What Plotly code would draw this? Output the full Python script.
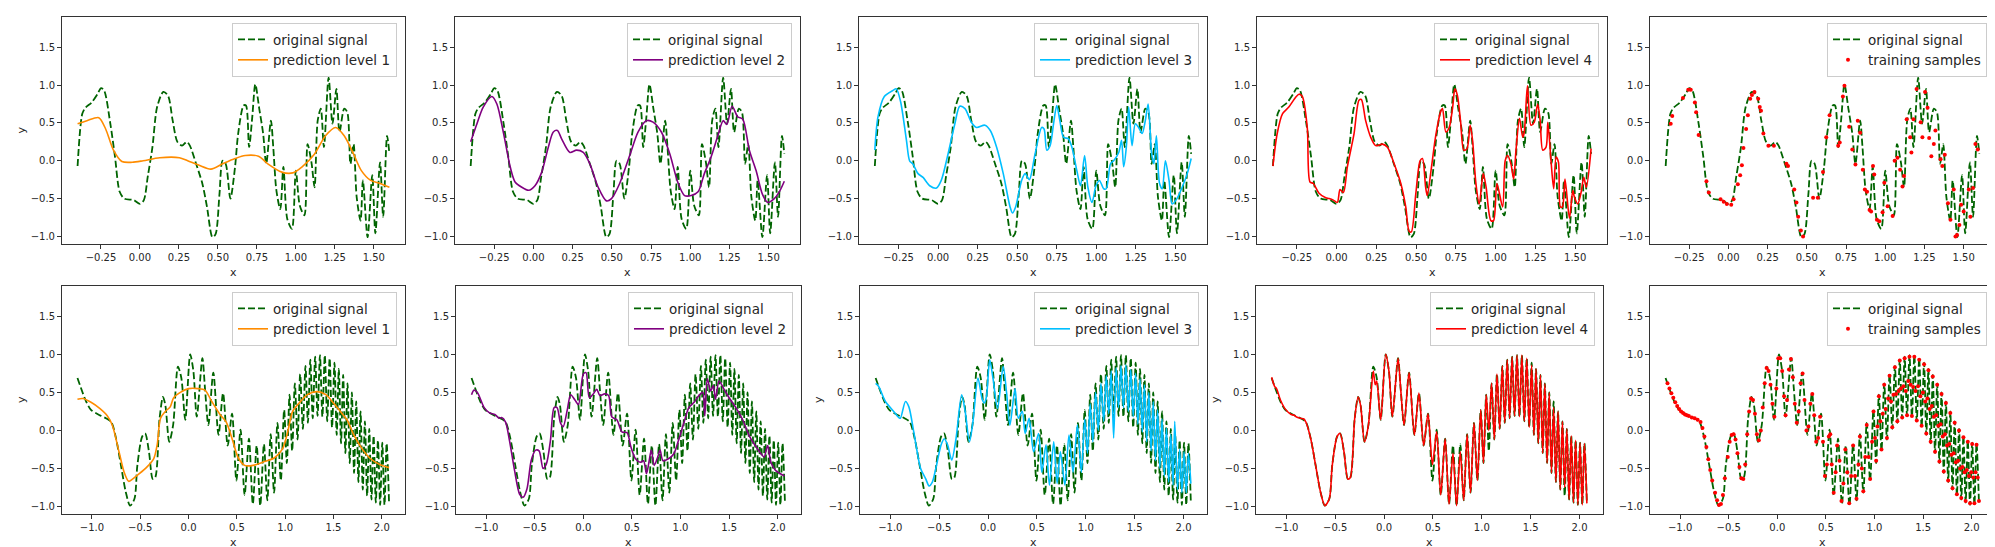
import plotly.graph_objects as go

W, H = 1995, 547

# ---- top row: original signal and predictions (x, y)
top_signal = [
    (-0.40, -0.07), (-0.37, 0.62), (-0.35, 0.70), (-0.31, 0.77), (-0.27, 0.89), (-0.25, 0.96),
    (-0.23, 0.93), (-0.19, 0.49), (-0.16, 0.05), (-0.13, -0.41), (-0.10, -0.50), (-0.04, -0.52),
    (0.00, -0.57), (0.025, -0.52), (0.05, -0.21), (0.08, 0.18), (0.11, 0.71), (0.15, 0.91),
    (0.18, 0.86), (0.21, 0.53), (0.24, 0.25), (0.27, 0.20), (0.30, 0.25), (0.32, 0.20),
    (0.36, -0.04), (0.40, -0.30), (0.43, -0.61), (0.465, -1.01), (0.485, -0.97), (0.51, -0.44),
    (0.53, 0.00), (0.55, -0.04), (0.58, -0.50), (0.61, -0.08), (0.63, 0.36), (0.665, 0.73),
    (0.68, 0.73), (0.70, 0.18), (0.72, 0.57), (0.74, 1.01), (0.765, 0.69), (0.79, 0.36),
    (0.81, -0.04), (0.84, 0.53), (0.855, 0.18), (0.875, -0.39), (0.90, -0.64), (0.92, -0.08),
    (0.945, -0.77), (0.975, -0.90), (1.00, -0.13), (1.025, -0.59), (1.055, -0.72), (1.075, 0.22),
    (1.10, -0.02), (1.12, -0.35), (1.14, 0.53), (1.16, 0.69), (1.18, 0.18), (1.21, 1.10),
    (1.235, 0.49), (1.26, 0.95), (1.28, 0.38), (1.31, 0.69), (1.33, 0.64), (1.35, -0.04),
    (1.37, 0.22), (1.39, -0.48), (1.415, -0.79), (1.43, -0.26), (1.46, -1.01), (1.49, -0.19),
    (1.51, -0.96), (1.54, -0.02), (1.56, -0.74), (1.585, 0.33), (1.60, 0.09),
]

top_pred_1 = [
    (-0.40, 0.49), (-0.34, 0.53), (-0.264, 0.57), (-0.22, 0.42), (-0.17, 0.14), (-0.116, -0.01),
    (-0.05, -0.02), (0.02, 0.00), (0.127, 0.04), (0.253, 0.04), (0.306, 0.00), (0.38, -0.06),
    (0.455, -0.11), (0.53, -0.04), (0.61, 0.03), (0.675, 0.07), (0.76, 0.06), (0.82, -0.04),
    (0.91, -0.15), (0.98, -0.16), (1.04, -0.08), (1.12, 0.09), (1.19, 0.33), (1.255, 0.44),
    (1.31, 0.33), (1.37, 0.09), (1.42, -0.13), (1.48, -0.26), (1.54, -0.30), (1.60, -0.35),
]

top_pred_2 = [
    (-0.40, 0.25), (-0.36, 0.49), (-0.32, 0.71), (-0.265, 0.85), (-0.233, 0.75), (-0.19, 0.36),
    (-0.148, -0.08), (-0.117, -0.28), (-0.074, -0.35), (-0.03, -0.39), (0.01, -0.33), (0.053, -0.15),
    (0.095, 0.18), (0.127, 0.38), (0.153, 0.40), (0.18, 0.29), (0.233, 0.11), (0.275, 0.14),
    (0.318, 0.11), (0.36, -0.04), (0.413, -0.35), (0.466, -0.53), (0.498, -0.50), (0.55, -0.30),
    (0.614, 0.07), (0.667, 0.38), (0.72, 0.53), (0.763, 0.51), (0.816, 0.38), (0.87, 0.09),
    (0.92, -0.28), (0.964, -0.46), (1.006, -0.46), (1.05, -0.41), (1.09, -0.17), (1.133, 0.05),
    (1.176, 0.33), (1.21, 0.53), (1.233, 0.48), (1.267, 0.72), (1.303, 0.58), (1.335, 0.55),
    (1.377, 0.14), (1.42, -0.13), (1.46, -0.44), (1.494, -0.55), (1.536, -0.50), (1.568, -0.41),
    (1.60, -0.27),
]

top_pred_3 = [
    (-0.40, 0.14), (-0.38, 0.58), (-0.34, 0.85), (-0.285, 0.93), (-0.264, 0.95), (-0.237, 0.78),
    (-0.20, 0.27), (-0.18, 0.00), (-0.16, -0.04), (-0.127, -0.17), (-0.095, -0.22), (-0.053, -0.33),
    (-0.01, -0.36), (0.02, -0.26), (0.063, 0.09), (0.106, 0.49), (0.137, 0.72), (0.17, 0.69),
    (0.21, 0.51), (0.243, 0.44), (0.296, 0.47), (0.33, 0.40), (0.37, 0.18), (0.412, -0.17),
    (0.455, -0.61), (0.47, -0.69), (0.49, -0.61), (0.528, -0.26), (0.55, -0.17), (0.577, -0.25),
    (0.613, 0.09), (0.655, 0.44), (0.67, 0.42), (0.687, 0.14), (0.708, 0.20), (0.73, 0.49),
    (0.75, 0.73), (0.77, 0.53), (0.793, 0.31), (0.824, 0.29), (0.846, 0.18), (0.877, -0.13),
    (0.90, -0.33), (0.926, 0.07), (0.947, -0.35), (0.973, -0.55), (0.998, -0.33), (1.02, -0.26),
    (1.047, -0.37), (1.063, -0.37), (1.09, -0.04), (1.11, 0.00), (1.142, 0.11), (1.16, 0.27),
    (1.173, -0.08), (1.19, 0.18), (1.205, 0.71), (1.226, 0.20), (1.247, 0.49), (1.268, 0.44),
    (1.29, 0.36), (1.31, 0.53), (1.328, 0.75), (1.35, 0.09), (1.364, -0.04), (1.38, 0.33),
    (1.40, -0.30), (1.417, -0.37), (1.437, 0.00), (1.46, -0.26), (1.48, -0.57), (1.51, -0.50),
    (1.543, -0.35), (1.575, -0.17), (1.60, 0.03),
]

top_pred_4 = [
    (-0.40, -0.07), (-0.373, 0.36), (-0.34, 0.62), (-0.30, 0.71), (-0.257, 0.84), (-0.236, 0.88),
    (-0.215, 0.85), (-0.184, 0.44), (-0.167, -0.28), (-0.146, -0.30), (-0.11, -0.43), (-0.068, -0.49),
    (-0.047, -0.50), (-0.02, -0.52), (0.005, -0.55), (0.022, -0.38), (0.043, -0.42), (0.068, -0.08),
    (0.11, 0.36), (0.141, 0.80), (0.156, 0.81), (0.183, 0.53), (0.215, 0.31), (0.246, 0.20),
    (0.288, 0.22), (0.32, 0.18), (0.362, -0.04), (0.404, -0.30), (0.435, -0.61), (0.456, -0.93),
    (0.47, -0.94), (0.498, -0.44), (0.525, 0.00), (0.54, 0.03), (0.56, -0.35), (0.57, -0.46),
    (0.597, -0.08), (0.624, 0.34), (0.656, 0.66), (0.666, 0.69), (0.687, 0.38), (0.708, 0.44),
    (0.73, 0.71), (0.744, 0.95), (0.76, 0.86), (0.78, 0.51), (0.80, 0.14), (0.82, 0.16),
    (0.84, 0.47), (0.855, 0.27), (0.876, -0.30), (0.897, -0.57), (0.922, -0.17), (0.94, -0.35),
    (0.97, -0.79), (0.987, -0.79), (1.008, -0.30), (1.044, -0.61), (1.06, 0.00), (1.075, 0.07),
    (1.096, -0.04), (1.113, -0.24), (1.128, 0.14), (1.15, 0.56), (1.17, 0.31), (1.18, 0.38),
    (1.20, 0.99), (1.222, 0.47), (1.243, 0.51), (1.264, 0.75), (1.28, 0.53), (1.296, 0.14),
    (1.317, 0.18), (1.328, 0.51), (1.348, 0.00), (1.365, -0.37), (1.38, 0.05), (1.395, -0.02),
    (1.407, -0.61), (1.42, -0.61), (1.436, -0.24), (1.464, -0.76), (1.485, -0.39), (1.495, -0.48),
    (1.516, -0.57), (1.537, -0.42), (1.554, -0.22), (1.57, -0.35), (1.60, 0.16),
]

top_samples = [
    (-0.368, 0.49), (-0.358, 0.59), (-0.29, 0.83), (-0.256, 0.94), (-0.24, 0.94), (-0.214, 0.77),
    (-0.206, 0.64), (-0.19, 0.34), (-0.14, -0.27), (-0.125, -0.42), (-0.05, -0.51), (-0.03, -0.54),
    (-0.01, -0.57), (0.018, -0.58), (0.033, -0.51), (0.06, -0.31), (0.075, -0.19), (0.086, -0.06),
    (0.096, 0.17), (0.113, 0.42), (0.124, 0.60), (0.139, 0.82), (0.15, 0.87), (0.166, 0.91),
    (0.19, 0.82), (0.20, 0.71), (0.208, 0.66), (0.223, 0.36), (0.255, 0.20), (0.29, 0.20),
    (0.37, -0.04), (0.38, -0.07), (0.42, -0.38), (0.434, -0.55), (0.445, -0.74), (0.462, -0.92),
    (0.476, -1.00), (0.54, -0.49), (0.57, -0.49), (0.603, -0.15), (0.624, 0.31), (0.645, 0.60),
    (0.70, 0.20), (0.71, 0.24), (0.73, 0.85), (0.74, 0.99), (0.77, 0.45), (0.79, 0.15),
    (0.81, -0.05), (0.825, 0.53), (0.84, 0.37), (0.857, -0.12), (0.87, -0.38), (0.884, -0.41),
    (0.90, -0.65), (0.91, -0.67), (0.922, -0.07), (0.93, -0.18), (0.947, -0.78), (0.962, -0.80),
    (0.983, -0.68), (0.994, -0.29), (1.015, -0.60), (1.047, -0.73), (1.06, 0.00), (1.078, 0.04),
    (1.095, -0.12), (1.11, -0.34), (1.12, -0.20), (1.137, 0.55), (1.159, 0.31), (1.167, 0.11),
    (1.18, 0.55), (1.20, 0.95), (1.226, 0.51), (1.237, 0.31), (1.254, 0.91), (1.27, 0.70),
    (1.28, 0.30), (1.294, 0.06), (1.31, 0.22), (1.32, 0.40), (1.353, 0.02), (1.364, -0.07),
    (1.38, 0.08), (1.40, -0.56), (1.416, -0.78), (1.437, -0.38), (1.448, -1.00), (1.458, -0.98),
    (1.473, -0.85), (1.484, -0.58), (1.50, -0.67), (1.533, -0.38), (1.543, -0.74), (1.56, -0.36),
    (1.575, 0.22), (1.59, 0.15),
]

# ---- bottom row: original signal and predictions
bot_signal = [
    (-1.15, 0.69), (-1.06, 0.38), (-1.01, 0.27), (-0.92, 0.20), (-0.855, 0.16), (-0.80, 0.11),
    (-0.75, -0.11), (-0.70, -0.46), (-0.65, -0.81), (-0.605, -0.99), (-0.56, -0.90), (-0.53, -0.46),
    (-0.48, -0.08), (-0.45, -0.04), (-0.41, -0.28), (-0.37, -0.64), (-0.345, -0.62), (-0.30, 0.16),
    (-0.265, 0.44), (-0.24, 0.33), (-0.20, -0.15), (-0.16, 0.07), (-0.11, 0.84), (-0.075, 0.69),
    (-0.034, 0.14), (0.017, 1.00), (0.05, 0.78), (0.085, 0.18), (0.143, 0.95), (0.17, 0.55),
    (0.205, 0.07), (0.256, 0.76), (0.31, -0.06), (0.357, 0.49), (0.405, -0.20), (0.45, 0.22),
    (0.495, -0.66), (0.538, 0.01), (0.58, -0.85), (0.625, -0.11), (0.665, -0.97), (0.705, -0.20),
    (0.742, -0.99), (0.78, -0.18), (0.815, -0.92), (0.85, -0.05), (0.885, -0.82), (0.92, 0.10),
    (0.955, -0.66), (0.989, 0.27), (1.017, -0.43), (1.045, 0.47), (1.072, -0.27), (1.10, 0.62),
    (1.128, -0.12), (1.155, 0.74), (1.183, 0.02), (1.21, 0.85), (1.235, 0.10), (1.26, 0.93),
    (1.285, 0.16), (1.31, 0.97), (1.335, 0.19), (1.36, 0.99), (1.385, 0.18), (1.41, 0.99),
    (1.435, 0.12), (1.46, 0.95), (1.485, 0.04), (1.51, 0.89), (1.533, -0.06), (1.555, 0.81),
    (1.578, -0.17), (1.60, 0.73), (1.623, -0.30), (1.645, 0.62), (1.668, -0.43), (1.69, 0.50),
    (1.713, -0.56), (1.735, 0.38), (1.758, -0.68), (1.78, 0.25), (1.803, -0.78), (1.825, 0.12),
    (1.848, -0.86), (1.87, 0.02), (1.893, -0.91), (1.915, -0.07), (1.938, -0.95), (1.96, -0.13),
    (1.983, -0.98), (2.005, -0.16), (2.028, -0.98), (2.05, -0.17), (2.075, -0.96),
]

bot_pred_1 = [
    (-1.15, 0.41), (-1.094, 0.42), (-1.01, 0.37), (-0.92, 0.29), (-0.84, 0.19), (-0.79, 0.07),
    (-0.72, -0.28), (-0.667, -0.55), (-0.62, -0.67), (-0.58, -0.64), (-0.51, -0.57), (-0.43, -0.48),
    (-0.36, -0.37), (-0.325, -0.19), (-0.29, 0.16), (-0.24, 0.25), (-0.19, 0.31), (-0.154, 0.43),
    (-0.085, 0.50), (0.00, 0.55), (0.10, 0.55), (0.17, 0.53), (0.24, 0.38), (0.325, 0.21),
    (0.39, 0.11), (0.46, -0.15), (0.51, -0.35), (0.58, -0.46), (0.667, -0.46), (0.786, -0.41),
    (0.89, -0.36), (0.974, -0.24), (1.026, -0.02), (1.077, 0.25), (1.145, 0.36), (1.23, 0.47),
    (1.33, 0.51), (1.42, 0.47), (1.50, 0.36), (1.59, 0.22), (1.64, 0.14), (1.71, -0.06),
    (1.795, -0.24), (1.88, -0.37), (1.98, -0.45), (2.075, -0.49),
]

bot_pred_2 = [
    (-1.15, 0.47), (-1.125, 0.53), (-1.09, 0.50), (-1.02, 0.30), (-0.965, 0.23), (-0.91, 0.21),
    (-0.865, 0.16), (-0.84, 0.17), (-0.80, 0.11), (-0.76, -0.13), (-0.707, -0.53), (-0.655, -0.84),
    (-0.62, -0.88), (-0.58, -0.77), (-0.535, -0.39), (-0.49, -0.26), (-0.455, -0.27), (-0.414, -0.50),
    (-0.38, -0.44), (-0.338, -0.13), (-0.30, 0.30), (-0.27, 0.30), (-0.235, 0.10), (-0.207, 0.05),
    (-0.165, 0.27), (-0.13, 0.47), (-0.086, 0.40), (-0.05, 0.34), (0.00, 0.74), (0.028, 0.76),
    (0.062, 0.43), (0.103, 0.48), (0.138, 0.54), (0.17, 0.46), (0.22, 0.48), (0.26, 0.46),
    (0.293, 0.18), (0.345, 0.14), (0.397, -0.02), (0.45, -0.03), (0.49, -0.22), (0.535, -0.37),
    (0.586, -0.42), (0.62, -0.40), (0.65, -0.57), (0.675, -0.42), (0.70, -0.26), (0.73, -0.46),
    (0.766, -0.35), (0.79, -0.26), (0.82, -0.40), (0.88, -0.37), (0.93, -0.31), (0.98, -0.13),
    (1.035, 0.10), (1.086, 0.30), (1.14, 0.37), (1.19, 0.46), (1.23, 0.50), (1.25, 0.19),
    (1.276, 0.68), (1.31, 0.52), (1.338, 0.59), (1.36, 0.41), (1.397, 0.65), (1.448, 0.54),
    (1.50, 0.43), (1.57, 0.30), (1.64, 0.14), (1.71, -0.08), (1.78, -0.22), (1.83, -0.31),
    (1.86, -0.35), (1.897, -0.20), (1.93, -0.42), (1.98, -0.53), (2.07, -0.60),
]

bot_pred_3 = [
    (-1.15, 0.62), (-1.12, 0.58), (-1.05, 0.38), (-0.965, 0.25), (-0.914, 0.17), (-0.897, 0.16),
    (-0.845, 0.38), (-0.81, 0.31), (-0.76, -0.02), (-0.69, -0.50), (-0.64, -0.63), (-0.603, -0.73),
    (-0.57, -0.68), (-0.534, -0.50), (-0.48, -0.19), (-0.448, -0.11), (-0.414, -0.19), (-0.372, -0.39),
    (-0.328, -0.11), (-0.27, 0.47), (-0.234, 0.25), (-0.19, -0.15), (-0.155, 0.11), (-0.103, 0.69),
    (-0.062, 0.42), (-0.04, 0.36), (-0.017, 0.44), (0.017, 0.93), (0.05, 0.69), (0.097, 0.29),
    (0.155, 0.84), (0.19, 0.49), (0.224, 0.07), (0.276, 0.55), (0.31, 0.16), (0.35, 0.25),
    (0.38, -0.04), (0.42, 0.16), (0.466, -0.28), (0.517, -0.04), (0.55, -0.55), (0.593, -0.19),
    (0.628, -0.72), (0.672, -0.15), (0.707, -0.70), (0.74, -0.28), (0.786, -0.72), (0.828, -0.06),
    (0.87, -0.55), (0.914, 0.07), (0.955, -0.55), (0.989, 0.15), (1.017, -0.30), (1.045, 0.35),
    (1.072, -0.15), (1.10, 0.50), (1.128, 0.00), (1.155, 0.62), (1.183, 0.12), (1.21, 0.72),
    (1.235, 0.22), (1.26, 0.78), (1.285, -0.10), (1.31, 0.82), (1.335, 0.30), (1.36, 0.85),
    (1.385, 0.30), (1.41, 0.86), (1.435, 0.25), (1.46, 0.80), (1.485, 0.18), (1.51, 0.75),
    (1.533, 0.08), (1.555, 0.68), (1.578, -0.02), (1.60, 0.60), (1.623, -0.15), (1.645, 0.50),
    (1.668, -0.27), (1.69, 0.38), (1.713, -0.40), (1.735, 0.27), (1.758, -0.50), (1.78, 0.15),
    (1.803, -0.60), (1.825, 0.03), (1.848, -0.68), (1.87, -0.05), (1.893, -0.72), (1.91, 0.12),
    (1.938, -0.78), (1.96, -0.25), (1.983, -0.82), (2.005, -0.28), (2.028, -0.82), (2.05, -0.30),
    (2.075, -0.70),
]

bot_pred_4 = [
    (-1.15, 0.70), (-1.12, 0.58), (-1.10, 0.55), (-1.06, 0.40), (-1.01, 0.28), (-0.95, 0.21),
    (-0.92, 0.20), (-0.90, 0.18), (-0.855, 0.16), (-0.82, 0.15), (-0.80, 0.11), (-0.75, -0.11),
    (-0.70, -0.46), (-0.65, -0.81), (-0.605, -0.99), (-0.56, -0.90), (-0.53, -0.46), (-0.48, -0.08),
    (-0.45, -0.04), (-0.41, -0.28), (-0.37, -0.64), (-0.345, -0.62), (-0.30, 0.16), (-0.265, 0.44),
    (-0.24, 0.33), (-0.20, -0.15), (-0.16, 0.07), (-0.11, 0.78), (-0.09, 0.60), (-0.075, 0.65),
    (-0.034, 0.14), (0.017, 1.00), (0.05, 0.78), (0.085, 0.18), (0.143, 0.95), (0.17, 0.55),
    (0.205, 0.07), (0.256, 0.76), (0.31, -0.06), (0.357, 0.49), (0.405, -0.20), (0.45, 0.22),
    (0.495, -0.45), (0.538, -0.02), (0.58, -0.85), (0.625, -0.11), (0.665, -0.97), (0.705, -0.30),
    (0.742, -0.99), (0.78, -0.28), (0.815, -0.92), (0.85, -0.05), (0.885, -0.82), (0.92, 0.10),
    (0.955, -0.66), (0.989, 0.27), (1.017, -0.43), (1.045, 0.47), (1.072, 0.00), (1.10, 0.62),
    (1.128, -0.12), (1.155, 0.74), (1.183, 0.02), (1.21, 0.85), (1.235, 0.10), (1.26, 0.93),
    (1.285, 0.16), (1.31, 0.97), (1.335, 0.19), (1.36, 0.99), (1.385, 0.18), (1.41, 0.99),
    (1.435, 0.12), (1.46, 0.95), (1.485, 0.04), (1.51, 0.86), (1.533, -0.06), (1.555, 0.81),
    (1.578, -0.17), (1.60, 0.73), (1.623, -0.30), (1.645, 0.62), (1.668, -0.43), (1.69, 0.50),
    (1.713, -0.56), (1.735, 0.30), (1.758, -0.68), (1.78, 0.25), (1.803, -0.78), (1.825, 0.12),
    (1.848, -0.75), (1.87, 0.02), (1.893, -0.91), (1.915, -0.07), (1.938, -0.95), (1.96, -0.13),
    (1.983, -0.98), (2.005, -0.16), (2.028, -0.98), (2.05, -0.17), (2.075, -0.96),
]

bot_samples = [
    (-1.13, 0.62), (-1.11, 0.55), (-1.09, 0.49), (-1.07, 0.43), (-1.05, 0.37), (-1.03, 0.32),
    (-1.01, 0.28), (-0.99, 0.25), (-0.97, 0.23), (-0.95, 0.21), (-0.93, 0.20), (-0.91, 0.19),
    (-0.88, 0.17), (-0.85, 0.16), (-0.82, 0.14), (-0.79, 0.11), (-0.77, 0.03), (-0.75, -0.08),
    (-0.73, -0.22), (-0.71, -0.38), (-0.69, -0.52), (-0.67, -0.66), (-0.64, -0.82), (-0.62, -0.92),
    (-0.60, -0.98), (-0.58, -0.97), (-0.56, -0.85), (-0.54, -0.63), (-0.51, -0.35), (-0.49, -0.15),
    (-0.47, -0.06), (-0.45, -0.05), (-0.43, -0.12), (-0.41, -0.30), (-0.39, -0.48), (-0.37, -0.63),
    (-0.35, -0.64), (-0.33, -0.45), (-0.31, -0.05), (-0.29, 0.25), (-0.27, 0.42), (-0.25, 0.40),
    (-0.23, 0.22), (-0.21, -0.05), (-0.19, -0.13), (-0.17, 0.00), (-0.15, 0.30), (-0.13, 0.62),
    (-0.11, 0.82), (-0.09, 0.78), (-0.07, 0.60), (-0.05, 0.35), (-0.03, 0.18), (-0.01, 0.55),
    (0.01, 0.95), (0.03, 0.95), (0.05, 0.78), (0.07, 0.45), (0.085, 0.20), (0.10, 0.40),
    (0.12, 0.80), (0.14, 0.94), (0.16, 0.70), (0.18, 0.35), (0.20, 0.10), (0.22, 0.25),
    (0.24, 0.62), (0.26, 0.75), (0.28, 0.40), (0.30, 0.00), (0.32, 0.05), (0.34, 0.35),
    (0.36, 0.48), (0.38, 0.20), (0.40, -0.15), (0.42, -0.10), (0.44, 0.18), (0.47, -0.15),
    (0.49, -0.60), (0.51, -0.45), (0.53, -0.08), (0.545, -0.05), (0.56, -0.45), (0.58, -0.82),
    (0.60, -0.55), (0.615, -0.20), (0.64, -0.40), (0.66, -0.93), (0.68, -0.70), (0.70, -0.25),
    (0.72, -0.55), (0.74, -0.96), (0.76, -0.60), (0.78, -0.20), (0.80, -0.60), (0.815, -0.90),
    (0.835, -0.45), (0.85, -0.08), (0.87, -0.50), (0.885, -0.80), (0.905, -0.35), (0.92, 0.07),
    (0.94, -0.35), (0.955, -0.64), (0.975, -0.15), (0.99, 0.25), (1.005, -0.10), (1.017, -0.40),
    (1.03, 0.05), (1.045, 0.45), (1.06, 0.12), (1.072, -0.25), (1.085, 0.22), (1.10, 0.60),
    (1.115, 0.28), (1.128, -0.10), (1.14, 0.42), (1.155, 0.72), (1.17, 0.38), (1.183, 0.04),
    (1.195, 0.47), (1.21, 0.83), (1.222, 0.48), (1.235, 0.12), (1.248, 0.52), (1.26, 0.92),
    (1.272, 0.55), (1.285, 0.17), (1.298, 0.58), (1.31, 0.95), (1.322, 0.52), (1.335, 0.20),
    (1.348, 0.65), (1.36, 0.97), (1.372, 0.60), (1.385, 0.19), (1.398, 0.57), (1.41, 0.97),
    (1.422, 0.52), (1.435, 0.13), (1.448, 0.58), (1.46, 0.93), (1.472, 0.45), (1.485, 0.06),
    (1.498, 0.50), (1.51, 0.87), (1.522, 0.38), (1.533, -0.04), (1.545, 0.42), (1.555, 0.79),
    (1.567, 0.28), (1.578, -0.15), (1.59, 0.32), (1.60, 0.71), (1.612, 0.18), (1.623, -0.28),
    (1.635, 0.20), (1.645, 0.60), (1.657, 0.06), (1.668, -0.41), (1.68, 0.08), (1.69, 0.48),
    (1.702, -0.08), (1.713, -0.54), (1.725, -0.05), (1.735, 0.36), (1.747, -0.20), (1.758, -0.66),
    (1.77, -0.18), (1.78, 0.23), (1.792, -0.32), (1.803, -0.76), (1.815, -0.30), (1.825, 0.10),
    (1.837, -0.42), (1.848, -0.84), (1.86, -0.40), (1.87, 0.00), (1.882, -0.50), (1.893, -0.89),
    (1.905, -0.48), (1.915, -0.09), (1.927, -0.55), (1.938, -0.93), (1.95, -0.52), (1.96, -0.15),
    (1.972, -0.60), (1.983, -0.96), (1.995, -0.55), (2.005, -0.18), (2.017, -0.62), (2.028, -0.96),
    (2.04, -0.55), (2.05, -0.19), (2.062, -0.62), (2.075, -0.93),
]

top_xticks = [-0.25, 0.00, 0.25, 0.50, 0.75, 1.00, 1.25, 1.50]
bot_xticks = [-1.0, -0.5, 0.0, 0.5, 1.0, 1.5, 2.0]
yticks = [-1.0, -0.5, 0.0, 0.5, 1.0, 1.5]

pred_names = ["prediction level 1", "prediction level 2", "prediction level 3", "prediction level 4"]
pred_colors = ["darkorange", "purple", "deepskyblue", "red"]

# panel geometry in pixels (left, right) per column, (top, bottom) per row
top_cols = [(54, 397), (447, 792), (851, 1199), (1249, 1599), (1642, 1987)]
bot_cols = [(54, 397), (448, 793), (852, 1199), (1248, 1595), (1642, 1987)]
top_rows = (9, 236)
bot_rows = (278, 506)

FONT = "DejaVu Sans"
TXT = "#262626"


def unzip(points):
    return [p[0] for p in points], [p[1] for p in points]


fig = go.Figure()
layout = {}
annotations = []

for k in range(10):
    row = 0 if k < 5 else 1
    col = k % 5
    n = k + 1
    xref = "x" if n == 1 else f"x{n}"
    yref = "y" if n == 1 else f"y{n}"
    leg = "legend" if n == 1 else f"legend{n}"
    left, right = (top_cols if row == 0 else bot_cols)[col]
    top, bottom = top_rows if row == 0 else bot_rows

    signal = top_signal if row == 0 else bot_signal
    sx, sy = unzip(signal)
    fig.add_trace(go.Scatter(
        x=sx, y=sy, mode="lines", name="original signal",
        line=dict(color="darkgreen", width=1.8, dash="7px,3px", shape="spline", smoothing=0.8),
        xaxis=xref, yaxis=yref, legend=leg,
    ))
    if col < 4:
        preds = [top_pred_1, top_pred_2, top_pred_3, top_pred_4] if row == 0 else \
            [bot_pred_1, bot_pred_2, bot_pred_3, bot_pred_4]
        px, py = unzip(preds[col])
        fig.add_trace(go.Scatter(
            x=px, y=py, mode="lines", name=pred_names[col],
            line=dict(color=pred_colors[col], width=1.6, shape="spline", smoothing=0.8),
            xaxis=xref, yaxis=yref, legend=leg,
        ))
    else:
        tx, ty = unzip(top_samples if row == 0 else bot_samples)
        fig.add_trace(go.Scatter(
            x=tx, y=ty, mode="markers", name="training samples",
            marker=dict(color="red", size=4),
            xaxis=xref, yaxis=yref, legend=leg,
        ))

    xticks = top_xticks if row == 0 else bot_xticks
    layout["xaxis" if n == 1 else f"xaxis{n}"] = dict(
        domain=[left / W, right / W], anchor=yref,
        range=[-0.5, 1.7] if row == 0 else [-1.31, 2.24],
        tickvals=xticks, tickformat=".2f" if row == 0 else ".1f",
        showgrid=False, zeroline=False, showline=True, mirror=True,
        linecolor="#333", linewidth=1, ticks="outside", ticklen=4, tickcolor="#333",
        tickfont=dict(family=FONT, size=10, color=TXT),
    )
    layout["yaxis" if n == 1 else f"yaxis{n}"] = dict(
        domain=[1 - bottom / H, 1 - top / H], anchor=xref,
        range=[-1.1, 1.9], tickvals=yticks, tickformat=".1f",
        showgrid=False, zeroline=False, showline=True, mirror=True,
        linecolor="#333", linewidth=1, ticks="outside", ticklen=4, tickcolor="#333",
        tickfont=dict(family=FONT, size=10, color=TXT),
    )
    layout[leg] = dict(
        x=(right - 8) / W, y=1 - (top + 6) / H, xanchor="right", yanchor="top",
        bgcolor="rgba(255,255,255,0.85)", bordercolor="#cccccc", borderwidth=1,
        font=dict(family=FONT, size=13.5, color=TXT), tracegroupgap=0, itemwidth=30,
    )
    # axis label "x"
    annotations.append(dict(
        text="x", x=(left + right) / 2 / W, y=1 - (bottom + 28) / H, xref="paper", yref="paper",
        xanchor="center", yanchor="middle",
        showarrow=False, font=dict(family=FONT, size=11, color=TXT),
    ))

# "y" labels visible only on some panels
for xpos, (top, bottom) in [(13, top_rows), (13, bot_rows), (810, bot_rows), (1207, bot_rows)]:
    annotations.append(dict(
        text="y", x=xpos / W, y=1 - (top + bottom) / 2 / H, xref="paper", yref="paper",
        xanchor="center", yanchor="middle",
        showarrow=False, textangle=-90, font=dict(family=FONT, size=11, color=TXT),
    ))

fig.update_layout(
    **layout,
    annotations=annotations,
    width=W, height=H,
    margin=dict(l=0, r=0, t=0, b=0),
    paper_bgcolor="white", plot_bgcolor="white",
    showlegend=True,
)

fig.write_html("out.html")
